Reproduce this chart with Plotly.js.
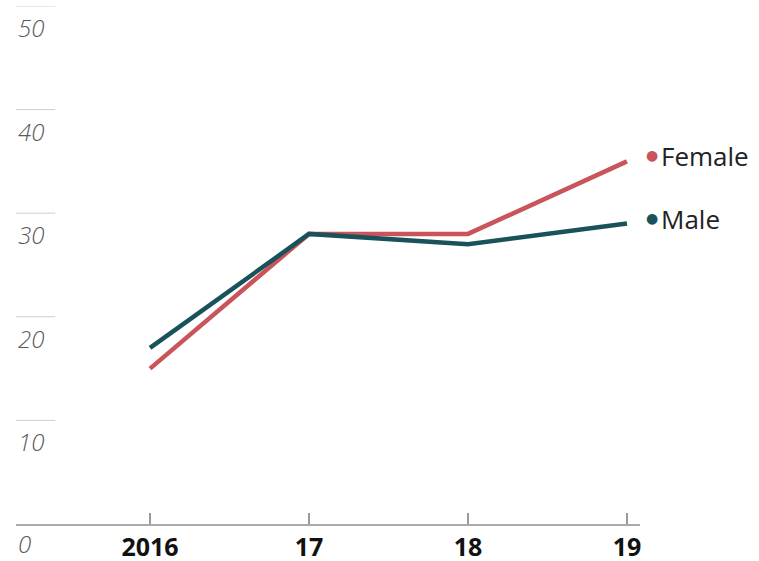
<!DOCTYPE html>
<html>
<head>
<meta charset="utf-8">
<script src="https://cdn.plot.ly/plotly-3.0.1.min.js"></script>
<style>html,body{margin:0;padding:0;background:#fff}#chart{width:759px;height:561px}</style>
</head>
<body>
<div id="chart"></div>
<script>
var years = [2016, 2017, 2018, 2019];
var yearLabels = ["2016", "17", "18", "19"];
var female = [15, 28, 28, 35];
var male = [17, 28, 27, 29];
var seriesNames = ["Female", "Male"];
var yTicks = [10, 20, 30, 40, 50];
var yZeroLabel = [0];

var red = "#c9545b", teal = "#1a525c";
var font = "'Open Sans', sans-serif";

var traces = [
  {x: years, y: female, mode: "lines", line: {color: red, width: 4.5}, hoverinfo: "skip"},
  {x: years, y: male, mode: "lines", line: {color: teal, width: 4.5}, hoverinfo: "skip"}
];

var shapes = yTicks.map(function(v){
  return {type: "line", xref: "paper", yref: "y", x0: 0, x1: 0.063, y0: v, y1: v,
          line: {color: "#cfcfcf", width: 1}, layer: "below"};
});

var annotations = [];
yTicks.concat(yZeroLabel).forEach(function(v){
  annotations.push({xref: "paper", yref: "y", x: 0, y: v, xanchor: "left", yanchor: "top",
    yshift: v === 0 ? -1 : -3, showarrow: false, text: "<i>" + v + "</i>",
    font: {family: font, size: 24, color: "#5a5a5a", weight: 300}});
});
var ends = [[female, red, seriesNames[0]], [male, teal, seriesNames[1]]];
ends.forEach(function(e){
  var last = e[0][e[0].length - 1];
  annotations.push({x: years[years.length-1], y: last, xref: "x", yref: "y", xshift: 25, yshift: 6,
    showarrow: false, text: "●", font: {family: "DejaVu Sans", size: 14, color: e[1]}});
  annotations.push({x: years[years.length-1], y: last, xref: "x", yref: "y", xshift: 32, yshift: 5,
    xanchor: "left", showarrow: false, text: e[2], font: {family: font, size: 26, color: "#222"}});
});

var layout = {
  width: 759, height: 561,
  margin: {l: 16, r: 119, t: 6, b: 37},
  paper_bgcolor: "#fff", plot_bgcolor: "#fff",
  showlegend: false,
  xaxis: {range: [2015.157, 2019.082], tickvals: years, ticktext: yearLabels,
    showgrid: false, zeroline: false, showline: true, linecolor: "#aaa", linewidth: 1.5,
    ticks: "inside", ticklen: 11, tickcolor: "#999", tickwidth: 1.2,
    tickfont: {family: font, size: 25, color: "#111", weight: "bold"}, fixedrange: true},
  yaxis: {range: [0, 50], showgrid: false, zeroline: false, showticklabels: false,
    showline: false, fixedrange: true},
  shapes: shapes,
  annotations: annotations
};

Plotly.newPlot("chart", traces, layout, {displayModeBar: false, staticPlot: true});
</script>
</body>
</html>
